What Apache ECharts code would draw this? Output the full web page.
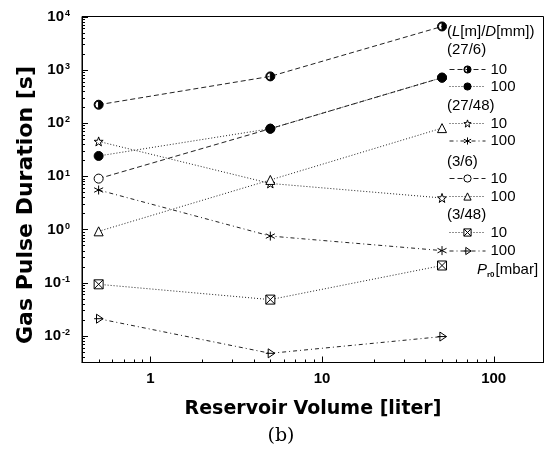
<!DOCTYPE html>
<html><head><meta charset="utf-8">
<script src="https://cdn.jsdelivr.net/npm/echarts@6/dist/echarts.min.js"></script>
<style>html,body{margin:0;padding:0;background:#fff}#c{width:550px;height:454px}</style>
</head><body><div id="c"></div>
<script>
// ---- data ----
const volumes = [0.5, 5, 50];
const d27_6_10  = [220, 750, 6500];
const d27_6_100 = [24, 78, 710];
const d27_48_10 = [45, 7.3, 3.9];
const d27_48_100 = [5.5, 0.75, 0.4];
const d3_6_10   = [9, 78, 710];
const d3_6_100  = [0.92, 8.5, 80];
const d3_48_10  = [0.093, 0.048, 0.21];
const d3_48_100 = [0.021, 0.0047, 0.0097];

const seriesNames  = ['27/6 10','27/6 100','27/48 10','27/48 100','3/6 10','3/6 100','3/48 10','3/48 100'];
const seriesLabels = ['10','100','10','100','10','100','10','100'];
const groupHeaders = ['(27/6)','(27/48)','(3/6)','(3/48)'];
const xTickValues = [1, 10, 100];
const xTickLabels = ['1', '10', '100'];
const yTickValues = [0.01, 0.1, 1, 10, 100, 1000, 10000];
const yTickExponents = ['-2', '-1', '0', '1', '2', '3', '4'];

// ---- styles ----
const FONT = 'Liberation Sans, Arial, sans-serif';
const TICK_COLOR = '#000';
const X_MIN = 0.4, X_MAX = 195, Y_MIN = 0.00316, Y_MAX = 10000;

function minorTicks(lo, hi) {
  const out = [];
  for (let e = -4; e <= 4; e++) {
    for (let k = 2; k <= 9; k++) {
      const v = +(k * Math.pow(10, e)).toPrecision(6);
      if (v > lo * 1.0001 && v < hi * 0.9999) out.push(v);
    }
  }
  return out;
}

const SYM = {
  half: 'path://M10,0A10,10,0,1,1,10,20A10,10,0,1,1,10,0ZM10,1.8A8.2,8.2,0,0,0,10,18.2Z',
  star: 'path://M10,0L12.35,6.76L19.51,6.91L13.8,11.24L15.88,18.09L10,14L4.12,18.09L6.2,11.24L0.49,6.91L7.65,6.76Z',
  aster: 'path://M10,0L10,20M1.34,5L18.66,15M1.34,15L18.66,5',
  xsq: 'path://M0,0L20,0L20,20L0,20ZM0,0L20,20M20,0L0,20',
  rtri: 'path://M5,2L19,10L5,18ZM0,10L19,10'
};
const DASH = [5, 3], DOT = [1, 2], DASHDOT = [4, 3, 1, 3];

const seriesData = [d27_6_10, d27_6_100, d27_48_10, d27_48_100, d3_6_10, d3_6_100, d3_48_10, d3_48_100];
const seriesStyle = [
  {symbol: SYM.half, fill: '#000', dash: DASH, z: 3},
  {symbol: 'circle', fill: '#000', dash: DOT, z: 4},
  {symbol: SYM.star, fill: '#fff', dash: DOT, z: 3},
  {symbol: SYM.aster, fill: '#000', dash: DASHDOT, z: 3},
  {symbol: 'circle', fill: '#fff', dash: DASH, z: 2},
  {symbol: 'triangle', fill: '#fff', dash: DOT, z: 3},
  {symbol: SYM.xsq, fill: '#fff', dash: DOT, z: 3},
  {symbol: SYM.rtri, fill: '#fff', dash: DASHDOT, z: 3}
];

const series = seriesNames.map((name, i) => ({
  type: 'line',
  name: name,
  data: volumes.map((v, j) => [v, seriesData[i][j]]),
  xAxisIndex: 0, yAxisIndex: 0,
  symbol: seriesStyle[i].symbol,
  symbolSize: 9,
  z: seriesStyle[i].z,
  lineStyle: {color: '#222', width: 1, type: seriesStyle[i].dash},
  itemStyle: {color: seriesStyle[i].fill, borderColor: '#000', borderWidth: 1},
  emphasis: {disabled: true},
  silent: true
}));

// axis ticks drawn through the cartesian coordinate system
function tickSeries(name, values, isX, len) {
  return {
    type: 'custom', name: name, coordinateSystem: 'cartesian2d', xAxisIndex: 0, yAxisIndex: 0,
    silent: true, clip: false, z: 6,
    data: values.map(v => isX ? [v, Y_MIN] : [X_MIN, v]),
    renderItem: (params, api) => {
      const p = api.coord([api.value(0), api.value(1)]);
      if (isX) {
        const x = Math.round(p[0]) + 0.5;
        return {type: 'line', shape: {x1: x, y1: p[1], x2: x, y2: p[1] - len}, style: {stroke: TICK_COLOR, lineWidth: 1}};
      }
      const y = Math.round(p[1]) + 0.5;
      return {type: 'line', shape: {x1: p[0], y1: y, x2: p[0] + len, y2: y}, style: {stroke: TICK_COLOR, lineWidth: 1}};
    }
  };
}
series.push(tickSeries('xMajorTicks', xTickValues, true, 6));
series.push(tickSeries('xMinorTicks', minorTicks(X_MIN, X_MAX), true, 3));
series.push(tickSeries('yMajorTicks', yTickValues, false, 6));
series.push(tickSeries('yMinorTicks', minorTicks(Y_MIN, Y_MAX), false, 3));

const legendCenters = [70, 87, 124, 141.5, 179, 197, 233, 251.5];
const legends = seriesNames.map((name, i) => ({
  data: [name],
  orient: 'vertical',
  left: 449,
  top: legendCenters[i] - 8,
  itemWidth: 36,
  itemHeight: 9,
  padding: 0,
  selectedMode: false,
  formatter: () => seriesLabels[i],
  itemStyle: {color: seriesStyle[i].fill, borderColor: '#000', borderWidth: 1},
  lineStyle: {color: '#222', width: 1, type: seriesStyle[i].dash},
  textStyle: {fontFamily: FONT, fontSize: 15, color: '#000', padding: [0, 0, 0, 0]}
}));

const headerY = [50, 106, 161.5, 215];
const legendTextStyle = {fontFamily: FONT, fontSize: 15, fill: '#000', align: 'left', verticalAlign: 'middle'};
const graphics = [
  {type: 'text', x: 447, y: 32, style: Object.assign({}, legendTextStyle, {
    text: '({i|L}[m]/{i|D}[mm])',
    rich: {i: {fontFamily: FONT, fontSize: 15, fontStyle: 'italic'}}
  })},
  ...groupHeaders.map((h, k) => ({type: 'text', x: 447, y: headerY[k], style: Object.assign({}, legendTextStyle, {text: h})})),
  {type: 'text', x: 477, y: 270, style: Object.assign({}, legendTextStyle, {
    text: '{i|P}{sub|r0}[mbar]',
    rich: {
      i: {fontFamily: FONT, fontSize: 15, fontStyle: 'italic', verticalAlign: 'middle'},
      sub: {fontFamily: FONT, fontSize: 8, fontWeight: 'bold', verticalAlign: 'bottom', padding: [10, 1, 0, 0]}
    }
  })},
  {type: 'text', x: 26, y: 205, rotation: Math.PI / 2, style: {
    text: 'Gas Pulse Duration [s]', fontFamily: 'DejaVu Sans', fontWeight: 'bold', fontSize: 22,
    fill: '#000', align: 'center', verticalAlign: 'middle'
  }},
  {type: 'text', x: 313, y: 409, style: {
    text: 'Reservoir Volume [liter]', fontFamily: 'DejaVu Sans', fontWeight: 'bold', fontSize: 19,
    fill: '#000', align: 'center', verticalAlign: 'middle'
  }},
  {type: 'text', x: 281, y: 436, style: {
    text: '(b)', fontFamily: 'DejaVu Serif', fontSize: 19,
    fill: '#000', align: 'center', verticalAlign: 'middle'
  }}
];

function yLabel(v) {
  let idx = 0, best = 1e9;
  yTickValues.forEach((t, k) => { const d = Math.abs(Math.log10(t) - Math.log10(v)); if (d < best) { best = d; idx = k; } });
  return '10{s|' + yTickExponents[idx] + '}';
}
function xLabel(v) {
  let idx = 0, best = 1e9;
  xTickValues.forEach((t, k) => { const d = Math.abs(Math.log10(t) - Math.log10(v)); if (d < best) { best = d; idx = k; } });
  return xTickLabels[idx];
}

const chart = echarts.init(document.getElementById('c'), null, {renderer: 'canvas'});
chart.setOption({
  animation: false,
  backgroundColor: '#fff',
  grid: {left: 82, right: 6.5, top: 16.5, bottom: 91.5, show: true, borderColor: '#000', borderWidth: 1, backgroundColor: 'transparent'},
  legend: legends,
  graphic: graphics,
  xAxis: {type: 'log', logBase: 10, min: X_MIN, max: X_MAX, position: 'bottom',
     axisLine: {show: true, onZero: false, lineStyle: {color: '#000', width: 1}},
     axisTick: {show: false},
     axisLabel: {show: true, customValues: xTickValues, formatter: xLabel, margin: 9,
                 fontFamily: FONT, fontWeight: 'bold', fontSize: 15, color: '#000'},
     splitLine: {show: false}, minorTick: {show: false}},
  yAxis: {type: 'log', logBase: 10, min: Y_MIN, max: Y_MAX, position: 'left',
     axisLine: {show: true, onZero: false, lineStyle: {color: '#000', width: 1}},
     axisTick: {show: false},
     axisLabel: {show: true, customValues: yTickValues, formatter: yLabel, margin: 12,
                 fontFamily: FONT, fontWeight: 'bold', fontSize: 15, color: '#000',
                 rich: {s: {fontFamily: FONT, fontWeight: 'bold', fontSize: 9, verticalAlign: 'top', padding: [0, 0, 0, 1]}}},
     splitLine: {show: false}, minorTick: {show: false}},
  series: series
});
</script>
</body></html>
